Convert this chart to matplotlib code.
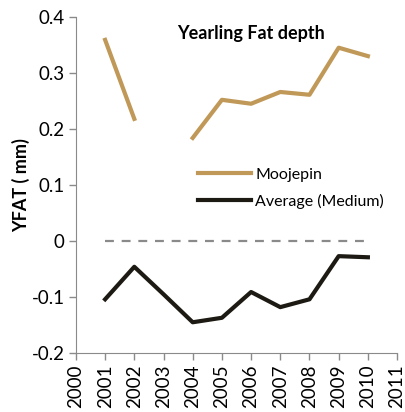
import numpy as np
import matplotlib.pyplot as plt

years = [2001, 2002, 2003, 2004, 2005, 2006, 2007, 2008, 2009, 2010]
moojepin = [0.359, 0.218, np.nan, 0.184, 0.252, 0.245, 0.266, 0.261, 0.345, 0.330]
average = [-0.104, -0.046, -0.095, -0.145, -0.137, -0.091, -0.118, -0.104, -0.027, -0.029]
zero_line = [0] * len(years)

plt.rcParams["font.family"] = ["Lato", "DejaVu Sans"]

fig = plt.figure(figsize=(4.06, 4.12), dpi=100)
ax = fig.add_axes([0.187, 0.143, 0.791, 0.816])

ax.plot(years, moojepin, color="#C09858", lw=3, label="Moojepin")
ax.plot(years, average, color="#1c1a12", lw=3, label="Average (Medium)")
ax.plot(years, zero_line, color="#8a8a8a", lw=1.6, ls=(0, (4, 3.5)))

ax.set_xlim(2000, 2011)
ax.set_ylim(-0.2, 0.4)
ax.set_xticks(range(2000, 2012))
ax.set_xticklabels([str(y) for y in range(2000, 2012)], rotation=90, fontsize=13.5)
ax.set_yticks([-0.2, -0.1, 0, 0.1, 0.2, 0.3, 0.4])
ax.set_yticklabels(["-0.2", "-0.1", "0", "0.1", "0.2", "0.3", "0.4"], fontsize=13.5)
ax.set_ylabel("YFAT ( mm)", fontsize=13, fontweight="bold", labelpad=1)

for s in ["top", "right"]:
    ax.spines[s].set_visible(False)
for s in ["left", "bottom"]:
    ax.spines[s].set_color("#8a8a8a")
ax.tick_params(direction="out", length=5, color="#8a8a8a", width=1, pad=3)

ax.text(0.545, 0.975, "Yearling Fat depth", transform=ax.transAxes, ha="center",
        va="top", fontsize=13, fontweight="bold")

ax.legend(loc="upper left", bbox_to_anchor=(0.335, 0.595), frameon=False,
          fontsize=11.5, handlelength=3.3, handletextpad=0.3, labelspacing=0.75)

fig.savefig("out.png", dpi=100)
